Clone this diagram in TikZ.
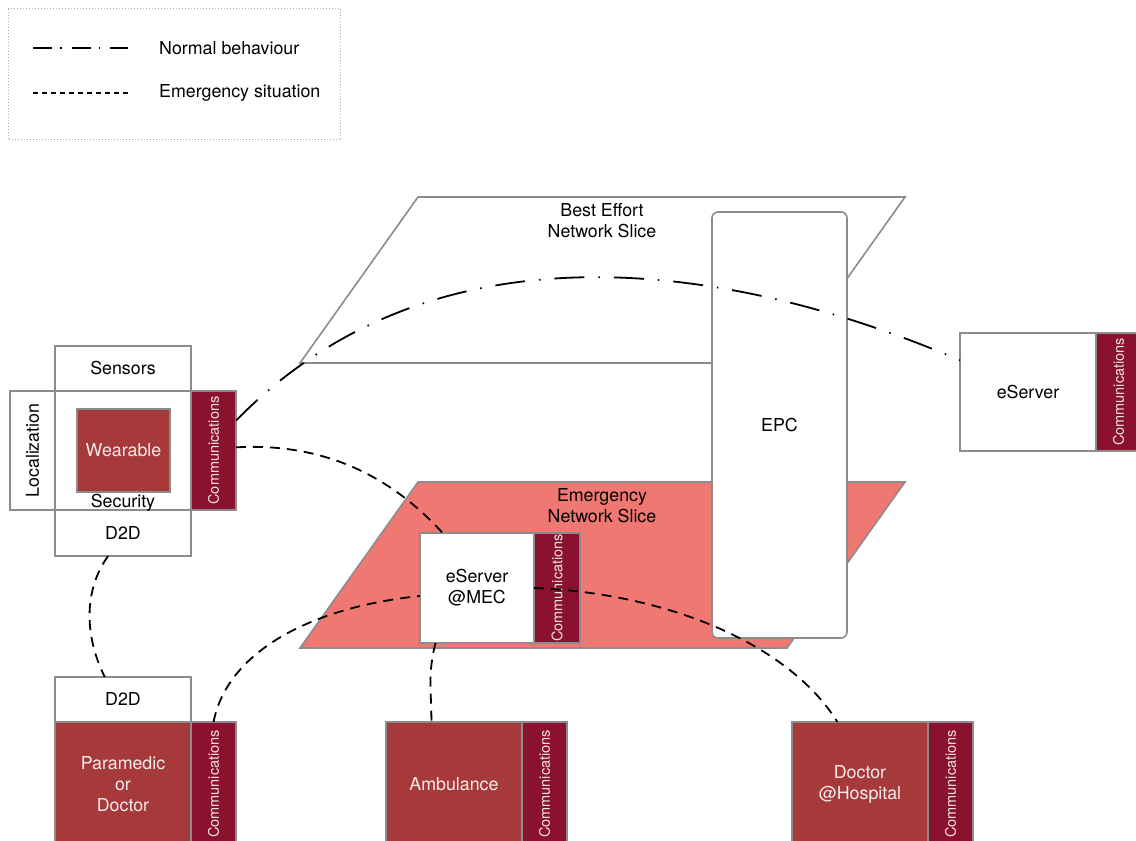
\documentclass[tikz,border=0pt]{standalone}
\usepackage{fontspec}
\setmainfont{TeX Gyre Heros}
\usetikzlibrary{positioning}
\definecolor{linegray}{HTML}{8C8C8C}
\definecolor{wred}{HTML}{A63A3B}
\definecolor{cred}{HTML}{8A1230}
\definecolor{slicered}{HTML}{F07872}
\tikzset{
box/.style={draw=linegray, line width=1.6pt, fill=white, inner sep=0pt, outer sep=0pt, align=center},
redbox/.style={box, fill=wred, text=white!90!wred},
comm/.style={box, fill=cred, text=white!88!cred, minimum width=45, font=\fontsize{14.5}{16}\selectfont},
slice/.style={draw=linegray, line width=1.6pt},
normalline/.style={line width=1.8pt, dash pattern=on 30pt off 14pt on 1.5pt off 14pt},
emergencyline/.style={line width=1.8pt, dash pattern=on 10pt off 7pt},
}

\begin{document}
\begin{tikzpicture}[x=1pt, y=-1pt, font=\fontsize{17.8}{21}\selectfont]
\useasboundingbox (0,0) rectangle (1136,841);
% legend
\node[draw=linegray!70, dotted, line width=1pt, inner sep=0pt, minimum width=332, minimum height=131, anchor=north west] (legend) at (8,8) {};
\coordinate (n1) at (33,48);
\coordinate (n2) at (128,48);
\coordinate (e1) at (33,93);
\coordinate (e2) at (128,93);
\draw[line width=1.2pt, dash pattern=on 19pt off 8pt on 1.5pt off 10pt] (n1) -- (n2);
\draw[line width=1.2pt, dash pattern=on 5pt off 4pt] (e1) -- (e2);
\node[anchor=west, inner sep=0pt] (ntext) at (159,48) {Normal behaviour};
\node[anchor=west, inner sep=0pt] (etext) at (159,93) {Emergency situation};

% slices and EPC
\draw[slice, fill=white] (300,363) -- (418,197) -- (905,197) -- (787,363) -- cycle;
\node[align=center] (best) at (602,221) {Best Effort\\Network Slice};
\draw[slice, fill=slicered] (300,648) -- (418,482) -- (905,482) -- (787,648) -- cycle;
\node[align=center] (emer) at (602,506) {Emergency\\Network Slice};
\node[box, rounded corners=6pt, minimum width=135, minimum height=426] (epc) at (779.5,425) {EPC};

% wearable
\node[box, minimum width=136, minimum height=119] (core) at (123,450.5) {};
\node[box, minimum width=136, minimum height=45, above=0pt of core] (sensors) {Sensors};
\node[box, minimum width=136, minimum height=46, below=0pt of core] (d2dw) {D2D};
\node[box, minimum width=45, minimum height=119, left=0pt of core] (loc) {\rotatebox{90}{Localization}};
\node[comm, minimum height=119, right=0pt of core] (wcomm) {\rotatebox{90}{Communications}};
\node[redbox, minimum width=93, minimum height=83] (wearable) at (123.5,450.5) {Wearable};
\node[anchor=base, inner sep=0pt] (security) at (123,507) {Security};

% servers
\node[box, minimum width=114, minimum height=110] (mec) at (477,588) {eServer\\@MEC};
\node[comm, minimum width=46, minimum height=110, right=0pt of mec] (mcomm) {\rotatebox{90}{Communications}};
\node[box, minimum width=136, minimum height=118] (eserver) at (1028,392) {eServer};
\node[comm, minimum height=118, right=0pt of eserver] (ecomm) {\rotatebox{90}{Communications}};

% bottom row
\node[box, minimum width=136, minimum height=45] (d2dp) at (123,699.5) {D2D};
\node[redbox, minimum width=136, minimum height=124, below=0pt of d2dp] (para) {Paramedic\\or\\Doctor};
\node[comm, minimum height=124, right=0pt of para] (pcomm) {\rotatebox{90}{Communications}};
\node[redbox, minimum width=136, minimum height=124] (amb) at (454,784) {Ambulance};
\node[comm, minimum height=124, right=0pt of amb] (acomm) {\rotatebox{90}{Communications}};
\node[redbox, minimum width=136, minimum height=124] (doc) at (860,784) {Doctor\\@Hospital};
\node[comm, minimum height=124, right=0pt of doc] (dcomm) {\rotatebox{90}{Communications}};

% links
\draw[normalline] (wcomm.53) .. controls +(200,-205) and +(-227,-97) .. (eserver.155);
\draw[emergencyline] (wcomm.8) .. controls +(90,-5) and +(-50,-55) .. (mec.122);
\draw[emergencyline] (d2dw.-123) .. controls +(-25,35) and +(-20,-40) .. (d2dp.129);
\draw[emergencyline] (pcomm.north) .. controls +(15,-75) and +(-100,10) .. (mec.-172);
\draw[emergencyline] (mcomm.west) .. controls +(130,5) and +(-50,-80) .. (doc.110);
\draw[emergencyline] (mec.-127) .. controls +(-8,30) and +(0,-30) .. (amb.110);
\end{tikzpicture}
\end{document}
